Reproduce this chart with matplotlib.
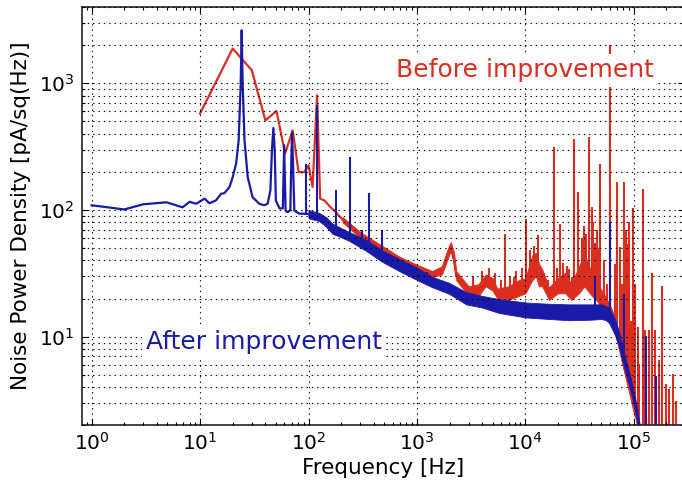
import matplotlib
matplotlib.use("Agg")
import matplotlib.pyplot as plt

RED = "#dc2e1e"
BLUE = "#1a1aa8"

# "After improvement" (blue) - main trace
blue_f = [1, 2, 3, 4.9, 6.9, 8, 9.2, 11, 12.2, 14, 15.6, 16.8, 18.7, 20, 21.5,
          22.7, 23.7, 24.2, 24.7, 25.7, 27.5, 30.5, 35.2, 39, 42, 44.5, 46,
          47.4, 48.8, 50, 54, 58, 59.6, 61.5, 64, 68, 69.5, 70.5, 72, 74, 82,
          88, 100, 110, 125, 145, 166, 200, 238, 341, 478, 685, 1004, 1380,
          1980, 2840, 3990, 5710, 10100, 16500, 25200, 38500, 50700, 55200,
          58900, 62700, 68200, 72700, 77600, 84400, 89900, 95900, 102000,
          107000, 111000, 116000]
blue_v = [109, 101, 111, 115, 105, 116, 112, 123, 113, 119, 134, 136, 152, 182,
          232, 355, 994, 2620, 994, 355, 182, 126, 112, 109, 112, 143, 296,
          444, 296, 119, 103, 103, 324, 99, 96, 100, 260, 410, 230, 99, 93.6,
          93.6, 93, 88, 88, 80.7, 71.2, 66.3, 61.8, 52.5, 43.3, 36.8, 31.3,
          27, 24, 20.1, 18.9, 17.5, 16.2, 15.8, 15.6, 15.6, 15.8, 15.4, 14.8,
          13.3, 11.5, 9.6, 7.7, 5.8, 4.8, 3.8, 3.05, 2.45, 2.0, 1.6]

# noisy band of the blue trace (lower / upper edge)
blue_band_f = [100, 125, 145, 166, 200, 238, 341, 478, 685, 1004, 1380, 1980,
               2840, 3990, 5710, 10100, 16500, 25200, 38500, 50700, 55200,
               58900, 62700, 68200, 72700, 77600, 84400, 89900, 95900, 102000,
               107000, 111000, 116000]
blue_band_lo = [86, 82, 74, 65, 61, 57, 47.5, 39, 33, 28, 24.6, 21.8, 18, 17,
                15.4, 14.2, 13.8, 13.5, 13.6, 13.8, 13.5, 12.9, 11.6, 10, 8.4,
                6.7, 5.1, 4.2, 3.4, 2.7, 2.15, 1.75, 1.4]
blue_band_hi = [100, 95, 88, 78, 72, 67, 58, 48, 41, 35, 29.7, 26.6, 22.5, 21,
                19.8, 18.6, 18.2, 18, 18, 18, 17.5, 16.9, 15.4, 13.2, 11, 8.8,
                6.6, 5.4, 4.3, 3.4, 2.75, 2.25, 1.8]

# narrow blue peaks: frequency, foot, top
blue_spk_f = [95.6, 120, 181, 242, 313, 362, 480, 1250, 43700, 59700, 80800,
              129000, 160000]
blue_spk_lo = [92, 86, 68, 58, 52, 50, 42, 28, 16, 15, 6.5, 1.5, 1.5]
blue_spk_hi = [232, 670, 145, 262, 69, 136, 69, 32.6, 30.4, 80, 21.9, 10.2,
               4.94]

# "Before improvement" (red) - main trace
red_f = [10, 20, 30, 40, 50.7, 60.8, 71.5, 81, 91.5, 100, 109, 120, 128, 140,
         160, 179, 206, 300, 480, 685, 1000, 1380, 1700, 1900, 2050, 2200,
         2300, 2600, 3000, 3700, 4300, 5000, 5500, 7000, 8700, 10000, 11600,
         12500, 13300, 14300, 16500, 20000, 23300, 26500, 31200, 35000, 41000,
         45000, 50700, 56000, 58900, 62700, 68200, 72700, 77600, 84400, 89900,
         95900, 102000, 107000, 113000, 120000, 290000]
red_v = [577, 1880, 1267, 510, 604, 279, 425, 199, 199, 225, 152, 804, 123,
         119, 105, 96, 84, 63, 48, 40.7, 35, 31.2, 33.4, 44, 52, 41, 30.2,
         26.7, 23, 23.4, 27.8, 26, 22, 22, 24.2, 25.3, 35, 37, 31, 29, 22,
         25.2, 26.5, 22.6, 28, 33.5, 26, 23, 19.8, 17.6, 16.1, 14.5, 11.5, 9.5,
         7.5, 5.5, 4.5, 3.5, 2.8, 2.2, 1.6, 1.0, 1.0]

red_band_f = [206, 300, 480, 685, 1000, 1380, 1700, 1900, 2050, 2200, 2300,
              2600, 3000, 3700, 4300, 5000, 5500, 7000, 8700, 10000, 11600,
              12500, 13300, 14300, 16500, 20000, 23300, 26500, 31200, 35000,
              41000, 45000, 50700, 56000, 58900, 62700, 68200, 72700, 77600,
              84400, 89900, 95900, 102000]
red_band_lo = [80, 60, 45, 38.5, 33, 29.5, 31, 40, 48, 36, 28, 24.5, 21.2, 21,
               25, 23, 20, 19.5, 21, 22, 28, 30, 25, 25, 19.5, 22, 22, 19.5,
               22, 25, 21, 19.5, 17, 15.5, 14.2, 12.5, 10, 8, 6.2, 4.6, 3.7,
               2.9, 2.3]
red_band_hi = [88, 67, 52, 43, 37, 33, 36, 48, 56, 46, 33, 29, 25, 26, 31, 29,
               24, 25, 28, 29, 44, 46, 38, 34, 24.5, 29, 32, 26, 36, 45, 32,
               27, 23, 20, 18.3, 16.5, 13, 11, 9, 6.5, 5.3, 4.2, 3.3]

red_spk_f = [3300, 4000, 4600, 5200, 6000, 6500, 7200, 7900, 8200, 9300, 10200,
             11000, 12000, 13200, 15000, 16000, 18500, 19500, 20700, 22000,
             24000, 25500, 27000, 28000, 30800, 33000, 33500, 35000, 36600,
             39000, 41000, 42000, 44000, 45500, 46000, 47000, 49000, 53000,
             57000, 60000, 67500, 70000, 74000, 77000, 80500, 84000, 87000,
             90000, 94000, 99000, 103000, 109000, 112000, 121000, 127000,
             130000, 137000, 147000, 158000, 170000, 181000, 197000, 210000,
             232000, 245000]
red_spk_lo = [22, 24, 26, 25, 21, 22, 21, 21, 22, 23, 25, 28, 30, 32, 24, 21,
              22, 23, 25, 26, 25, 23, 21, 23, 24, 25, 25, 27, 25, 26, 24, 24,
              22, 21, 20, 20, 19, 17, 15.5, 15, 11, 9.5, 8.5, 7.5, 6.8, 5.6, 5,
              4.5, 3.9, 3.0, 2.6, 2.1, 1.8, 1, 1, 1, 1, 1, 1, 1, 1, 1, 1, 1, 1]
red_spk_hi = [30, 33, 35, 32, 28, 65, 30, 29.4, 33, 35, 85, 48, 52, 63, 32, 28,
              314, 35, 78, 38, 36, 34, 29.4, 366, 138, 42, 60, 75, 65, 378,
              105, 80, 55, 70, 37.6, 50, 232, 40, 26, 2000, 37.6, 166, 51, 26,
              166, 69, 54, 80, 13.4, 103, 26, 11.9, 6.1, 147, 11.2, 4.5, 11.2,
              32, 11.2, 6.5, 25, 4.25, 3.9, 5.1, 3.1]


def main():
    fig = plt.figure(figsize=(6.82, 4.88), dpi=100)
    ax = fig.add_axes([0.1198, 0.1285, 0.8831, 0.8572])

    # before
    ax.fill_between(red_band_f, red_band_lo, red_band_hi, color=RED, lw=0.6,
                    zorder=2)
    ax.plot(red_f, red_v, color=RED, lw=1.6, zorder=2)
    ax.vlines(red_spk_f, red_spk_lo, red_spk_hi, color=RED, lw=1.5, zorder=2)

    # after
    ax.fill_between(blue_band_f, blue_band_lo, blue_band_hi, color=BLUE, lw=0.6,
                    zorder=2)
    ax.plot(blue_f, blue_v, color=BLUE, lw=1.6, zorder=2)
    ax.vlines(blue_spk_f, blue_spk_lo, blue_spk_hi, color=BLUE, lw=1.5, zorder=2)

    ax.set_xscale("log")
    ax.set_yscale("log")
    ax.set_xlim(0.81, 2.9e5)
    ax.set_ylim(2, 4000)

    grid_kw = dict(color="k", lw=0.8, linestyle=(0, (1.2, 3.6)))
    ax.grid(True, which="major", axis="x", **grid_kw)
    ax.grid(True, which="both", axis="y", **grid_kw)
    ax.set_axisbelow(False)

    ax.tick_params(which="both", direction="in", top=True, right=True,
                   labelsize=14.5, width=0.8)
    ax.tick_params(which="major", length=4.5, pad=5)
    ax.tick_params(which="minor", length=2.2)
    for s in ax.spines.values():
        s.set_linewidth(1.2)
        s.set_color("#222222")

    ax.set_xlabel("Frequency [Hz]", fontsize=15.5, labelpad=3)
    ax.set_ylabel("Noise Power Density [pA/sq(Hz)]", fontsize=15.5, labelpad=6)

    box = dict(facecolor="white", edgecolor="none", pad=3)
    ax.text(9960, 1262, "Before improvement", color=RED, fontsize=18,
            ha="center", va="center", bbox=box)
    ax.text(38.7, 9.08, "After improvement", color=BLUE, fontsize=18,
            ha="center", va="center", bbox=box)

    fig.savefig("out.png", dpi=100)
    plt.close(fig)


if __name__ == "__main__":
    main()
